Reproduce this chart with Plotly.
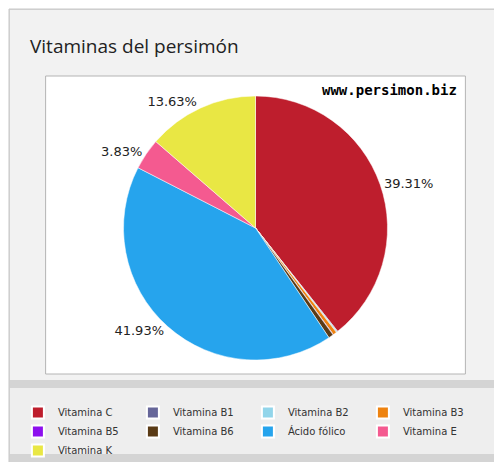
import plotly.graph_objects as go

W, H = 502, 462

labels = ["Vitamina C", "Vitamina B1", "Vitamina B2", "Vitamina B3", "Vitamina B5",
          "Vitamina B6", "Ácido fólico", "Vitamina E", "Vitamina K"]
values = [39.31, 0.08, 0.12, 0.45, 0.05, 0.60, 41.93, 3.83, 13.63]
colors = ["#be1e2d", "#666699", "#92d5ea", "#ee8310", "#8d10ee",
          "#5a3b16", "#26a4ed", "#f45a90", "#e9e744"]
shown = ["39.31%", "", "", "", "", "", "41.93%", "3.83%", "13.63%"]


def px(x0, y0, x1, y1):
    # pixel box (top-left origin) -> paper coords
    return dict(x0=x0 / W, x1=x1 / W, y0=1 - y1 / H, y1=1 - y0 / H)


fig = go.Figure(go.Pie(
    labels=labels, values=values, sort=False, direction="clockwise", rotation=0,
    marker=dict(colors=colors, line=dict(color="white", width=0.5)),
    text=shown, textinfo="text", textposition="outside",
    textfont=dict(family="DejaVu Sans", size=13, color="#222222"),
    outsidetextfont=dict(family="DejaVu Sans", size=13, color="#222222"),
    domain=dict(x=[80 / W, 420 / W], y=[1 - 352 / H, 1 - 88 / H]),
    showlegend=True, hoverinfo="label+percent",
))

shapes = [
    dict(type="rect", xref="paper", yref="paper", **px(1, 1, 501, 461),
         fillcolor="#d4d4d4", line=dict(color="#c8c8c8", width=1), layer="below"),
    dict(type="rect", xref="paper", yref="paper", **px(2, 2, 500, 372),
         fillcolor="#f2f2f2", line=dict(width=0), layer="below"),
    dict(type="rect", xref="paper", yref="paper", **px(38, 68, 462, 366),
         fillcolor="white", line=dict(color="#b4b4b4", width=1), layer="below"),
    dict(type="rect", xref="paper", yref="paper", **px(2, 380, 500, 446),
         fillcolor="#eeeeee", line=dict(width=0), layer="below"),
]

fig.update_layout(
    width=W, height=H, margin=dict(l=0, r=0, t=0, b=0),
    paper_bgcolor="white", shapes=shapes,
    annotations=[
        dict(text="Vitaminas del persimón", xref="paper", yref="paper",
             x=20 / W, y=1 - 38 / H, xanchor="left", yanchor="middle", showarrow=False,
             font=dict(family="Open Sans", size=19, color="#222222")),
        dict(text="<b>www.persimon.biz</b>", xref="paper", yref="paper",
             x=456 / W, y=1 - 82 / H, xanchor="right", yanchor="middle",
             showarrow=False,
             font=dict(family="DejaVu Sans Mono", size=14, color="black")),
    ],
    legend=dict(orientation="h", x=10 / W, y=1 - 390 / H, xanchor="left", yanchor="top",
                entrywidth=70, bgcolor="rgba(0,0,0,0)", itemsizing="constant",
                font=dict(family="DejaVu Sans", size=10, color="#333333"),
                tracegroupgap=0, traceorder="normal"),
)

fig.write_html("out.html")
